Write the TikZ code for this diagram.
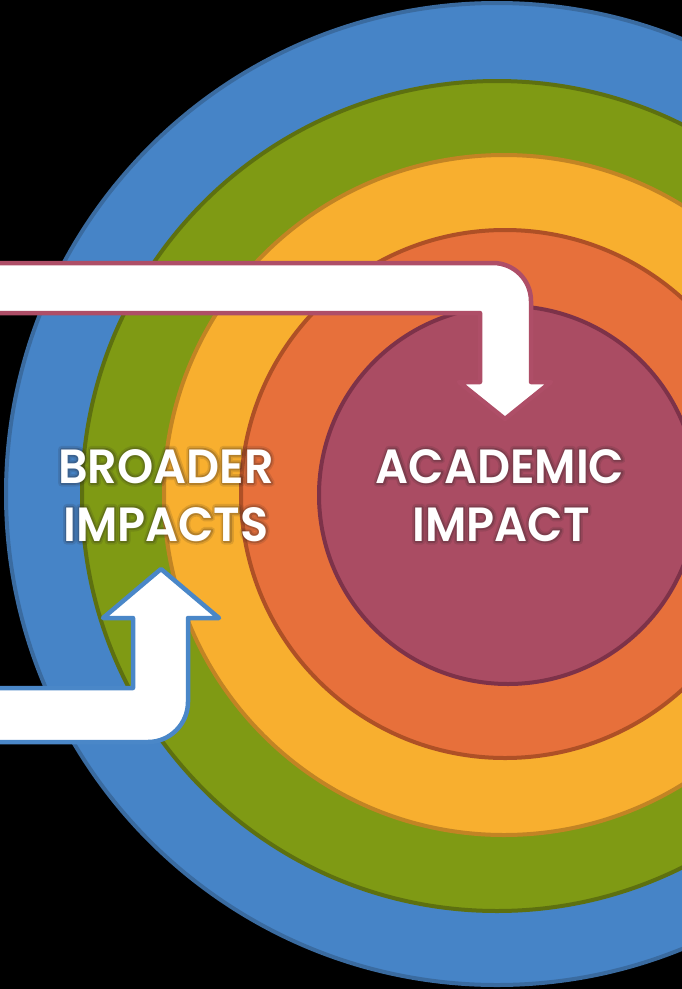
\documentclass[tikz,border=0pt]{standalone}
\usepackage{fontspec}
\setmainfont{Poppins}
\newfontfamily\capfont{Poppins SemiBold}
\definecolor{ringblue}{HTML}{4684C7}
\definecolor{ringblueedge}{HTML}{3A6BA0}
\definecolor{ringgreen}{HTML}{7F9A14}
\definecolor{ringgreenedge}{HTML}{5D7010}
\definecolor{ringyellow}{HTML}{F8AF2F}
\definecolor{ringyellowedge}{HTML}{C28424}
\definecolor{ringorange}{HTML}{E7703B}
\definecolor{ringorangeedge}{HTML}{AE5026}
\definecolor{ringmaroon}{HTML}{AA4C63}
\definecolor{ringmaroonedge}{HTML}{7D3249}
\definecolor{arrowmaroon}{HTML}{AE4E67}
\definecolor{arrowblue}{HTML}{4A87C8}
% outline-only glyphs, used for the soft halo behind the captions
\newcommand\outlined[2]{\special{pdf:literal direct 1 Tr #1 w 1 J 1 j 0.15 0.12 0.12 RG}#2\special{pdf:literal direct 0 Tr}}
% one caption line: two faint outlines, then the white text
\newcommand\haloline[3]{%
  \node[impacttext, opacity=0.13] at (#1) {\outlined{7}{#3}};
  \node[impacttext, opacity=0.22] at (#1) {\outlined{3.5}{#3}};
  \node[impacttext] (#2) at (#1) {#3};
}
\begin{document}
\begin{tikzpicture}[x=1pt,y=-1pt,
  ring/.style={line width=4pt},
  bigarrow/.style={fill=white, line width=4.5pt, line join=round},
  impacttext/.style={font=\fontsize{48}{58}\selectfont\capfont, text=white,
    inner sep=0pt, anchor=base, xscale=0.96}]
  % canvas
  \fill[black] (0,0) rectangle (682,989);
  \useasboundingbox (0,0) rectangle (682,989);
  \clip (0,0) rectangle (682,989);

  % concentric rings, outermost first
  \path[ring, fill=ringblue,   draw=ringblueedge]   (497,494) circle[radius=491];
  \path[ring, fill=ringgreen,  draw=ringgreenedge]  (497,496) circle[radius=415];
  \path[ring, fill=ringyellow, draw=ringyellowedge] (504,495) circle[radius=340];
  \path[ring, fill=ringorange, draw=ringorangeedge] (505,494) circle[radius=264];
  \path[ring, fill=ringmaroon, draw=ringmaroonedge] (508,495) circle[radius=189];

  % named points of the two bent arrows
  \coordinate (topstart) at (-10,288);
  \coordinate (toptip) at (505,419);
  \coordinate (botstart) at (-10,715);
  \coordinate (bottip) at (161,569);

  % arrow from the left edge bending down into the centre
  \draw[bigarrow, draw=arrowmaroon]
    (topstart |- 0,263) -- (493,263)
    .. controls (514,263) and (531,280) .. (531,301)
    -- (531,382) -- (551,382) -- (toptip) -- (459,382) -- (480,382)
    -- (480,313) -- (topstart |- 0,313) -- cycle;

  % arrow from the left edge bending up into the outer rings
  \draw[bigarrow, draw=arrowblue]
    (botstart |- 0,688) -- (133,688) -- (133,618) -- (103,618)
    -- (bottip) -- (219,618) -- (188,618) -- (188,702)
    .. controls (188,724) and (170,742) .. (148,742)
    -- (botstart |- 0,742) -- cycle;

  % captions
  \haloline{166,483}{broader}{BROADER}
  \haloline{166,541}{impacts}{IMPACTS}
  \haloline{500,483}{academic}{ACADEMIC}
  \haloline{501,541}{impact}{IMPACT}
\end{tikzpicture}
\end{document}
